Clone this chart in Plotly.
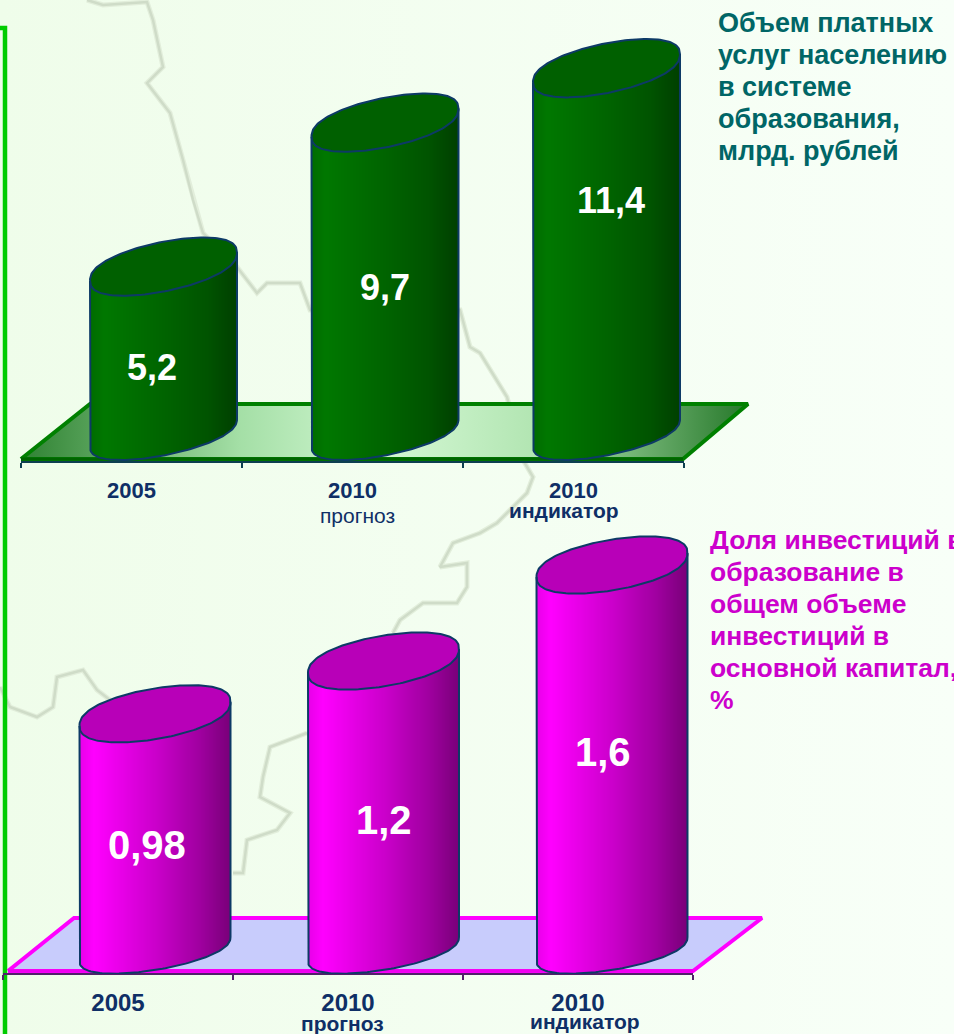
import numpy as np
import plotly.graph_objects as go

# ---------- data ----------
years = ["2005", "2010", "2010"]
services_values = [5.2, 9.7, 11.4]
services_labels = ["5,2", "9,7", "11,4"]
invest_values = [0.98, 1.2, 1.6]
invest_labels = ["0,98", "1,2", "1,6"]
services_title = ["Объем платных", "услуг населению", "в системе", "образования,", "млрд. рублей"]
invest_title = ["Доля инвестиций в", "образование в", "общем объеме", "инвестиций в", "основной капитал,", "%"]

# ---------- decoration of the slide (pixel space) ----------
W, H = 954, 1034
map_x1 = [87,103,147,153,163,147,170,183,193,203,237,257,267,300,310,460,470,480,507,523,533,527,497,480,453,440,467,467,457,423,400,393]
map_y1 = [0,5,2,20,67,83,113,160,200,233,267,293,283,283,310,310,347,353,397,460,477,493,523,533,543,567,563,587,603,603,620,633]
map_x2 = [307,270,263,260,290,277,247,243,233]
map_y2 = [733,747,777,797,813,830,840,873,873]
map_x3 = [0,10,37,53,57,83,97,110]
map_y3 = [687,707,717,707,677,670,690,700]

def hex2rgb(c):
    return np.array([int(c[i:i+2], 16) for i in (1, 3, 5)], float)

def ramp(stops, u):
    xs = [s[0] for s in stops]
    cs = np.array([hex2rgb(s[1]) for s in stops])
    return ["rgb(%d,%d,%d)" % tuple(np.interp(v, xs, cs[:, k]) for k in range(3)) for v in u]

STYLE = [
    dict(ax=("x2", "y2"), x0=21, slot=221, base=433, unit=32, bottom=462, top=0,
         centers=[163.5, 385, 606.5], half_px=73.5, tilt=14, bow=22.5, cap_bow=25,
         body=[(-1, "#006c00"), (-.8, "#007800"), (.1, "#006200"), (.6, "#005400"), (1, "#004000")],
         cap="#006000", edge="#0d3a66", label_px=[(152, 367), (385, 287), (611, 200)], label_size=[36, 36, 36],
         floor=[(21, 459), (683, 459), (748, 404), (90, 404)], floor_line="#008000", front="#006400", axis="#0d3f50",
         floor_scale=[[0, "#2f8232"], [.3, "#a4dfa6"], [.5, "#d4f8d4"], [.72, "#b0e4b0"], [1, "#26782a"]],
         year_y=489, year_size=22),
    dict(ax=("x3", "y3"), x0=3, slot=230, base=949, unit=240, bottom=974, top=530,
         centers=[155, 383.5, 612], half_px=75.5, tilt=12, bow=21, cap_bow=25.5,
         body=[(-1, "#e800e8"), (-.8, "#ff00ff"), (0, "#cc00cc"), (.6, "#a000a0"), (1, "#7a007a")],
         cap="#b800b8", edge="#0d3a66", label_px=[(147, 845), (384, 820), (603, 752)], label_size=[40, 40, 40],
         floor=[(8, 971), (693, 971), (762, 918), (74, 918)], floor_line="#ff00ff", front="#f000f0", axis="#50206a",
         floor_scale=[[0, "#c8ccfc"], [1, "#c8ccfc"]], year_y=1000, year_size=24),
]
CAT_VALUES = [services_values, invest_values]
CAT_LABELS = [services_labels, invest_labels]

fig = go.Figure()
BG = dict(hoverinfo="skip", showlegend=False, xaxis="x", yaxis="y", cliponaxis=False)

# background
fig.add_trace(go.Scatter(x=[0, W, W, 0, 0], y=[0, 0, H, H, 0], mode="lines", line=dict(width=0), fill="toself",
                         fillgradient=dict(type="horizontal", colorscale=[[0, "#effdea"], [1, "#f8fff8"]]), **BG))
for mx, my in [(map_x1, map_y1), (map_x2, map_y2), (map_x3, map_y3)]:
    fig.add_trace(go.Scatter(x=mx, y=my, mode="lines", line=dict(color="#e2eedb", width=5), **BG))
    fig.add_trace(go.Scatter(x=mx, y=my, mode="lines", line=dict(color="#cfdcc8", width=2.5), **BG))
fig.add_trace(go.Scatter(x=[0, 5, 5], y=[28, 28, H], mode="lines", line=dict(color="#00cc00", width=4.5), **BG))

layout_axes = dict(
    xaxis=dict(domain=[0, 1], range=[0, W], visible=False, fixedrange=True),
    yaxis=dict(domain=[0, 1], range=[H, 0], visible=False, fixedrange=True),
)
annotations = []

for k, st in enumerate(STYLE):
    xa, ya = st["ax"]
    slot, x0, unit, base = st["slot"], st["x0"], st["unit"], st["base"]
    px2x = lambda p: -0.5 + (p - x0) / slot
    px2y = lambda p: (base - p) / unit
    values = CAT_VALUES[k]
    tilt_v, bow_v, cap_v = st["tilt"] / unit, st["bow"] / unit, st["cap_bow"] / unit
    half = st["half_px"] / slot

    # floor (slide decoration, lies under the cylinders)
    fx = [p[0] for p in st["floor"]] + [st["floor"][0][0]]
    fy = [p[1] for p in st["floor"]] + [st["floor"][0][1]]
    fig.add_trace(go.Scatter(x=fx, y=fy, mode="lines", line=dict(color=st["floor_line"], width=4), fill="toself",
                             fillgradient=dict(type="horizontal", colorscale=st["floor_scale"]), **BG))
    fig.add_trace(go.Scatter(x=fx[:2], y=fy[:2], mode="lines", line=dict(color=st["front"], width=3), **BG))
    fig.add_trace(go.Scatter(x=[x0, x0 + 3 * slot], y=[st["bottom"]] * 2, mode="lines",
                             line=dict(color=st["axis"], width=2), **BG))

    # cylinders: each one is a run of 1 px wide bars, all exactly as tall as the value
    n = int(round(2 * st["half_px"]))
    u = (np.arange(n) + .5) / n * 2 - 1
    colors = ramp(st["body"], u)
    for i, v in enumerate(values):
        xc = px2x(st["centers"][i])
        sx = xc + u * half
        front = u * tilt_v - bow_v * (1 - u ** 2) ** 0.42
        fig.add_trace(go.Bar(x=sx, y=[v] * n, base=front, width=2 * half / n,
                             marker=dict(color=colors, line=dict(width=0)), hoverinfo="skip",
                             showlegend=False, xaxis=xa, yaxis=ya))
        t = np.linspace(0, np.pi, 80)
        cu = -np.cos(t)
        sn = np.sin(t) ** 0.84
        low = cu * tilt_v - bow_v * sn
        cap_low = cu * tilt_v - cap_v * sn
        cap_high = cu * tilt_v + cap_v * sn
        ox = xc + cu * half
        # top ellipse
        fig.add_trace(go.Scatter(x=np.r_[ox, ox[::-1]], y=np.r_[v + cap_low, (v + cap_high)[::-1]], mode="lines",
                                 line=dict(color=st["edge"], width=2), fill="toself", fillcolor=st["cap"],
                                 hoverinfo="skip", showlegend=False, xaxis=xa, yaxis=ya))
        # side outline
        fig.add_trace(go.Scatter(x=np.r_[ox[0], ox, ox[-1]], y=np.r_[v + low[0], low, v + low[-1]], mode="lines",
                                 line=dict(color=st["edge"], width=2), hoverinfo="skip", showlegend=False,
                                 xaxis=xa, yaxis=ya))
        # value label
        lx, ly = st["label_px"][i]
        annotations.append(dict(x=px2x(lx), y=px2y(ly), xref=xa, yref=ya, xanchor="center", yanchor="middle",
                                text="<b>%s</b>" % CAT_LABELS[k][i], showarrow=False,
                                font=dict(family="Liberation Sans", size=st["label_size"][i], color="white")))

    layout_axes["xaxis" + xa[1:]] = dict(
        domain=[0, 1], range=[px2x(0), px2x(W)], anchor=ya, showgrid=False, zeroline=False, showline=False,
        fixedrange=True, tickmode="array", tickvals=[0, 1, 2],
        ticktext=["<b>%s</b>" % y for y in years], ticks="", ticklabelstandoff=int(st["year_y"] - st["bottom"] - 14),
        tickfont=dict(family="Liberation Sans", size=st["year_size"], color="#0f2f66"),
        minor=dict(tickmode="array", tickvals=[-0.5, 0.5, 1.5, 2.5], ticks="outside", ticklen=5, tickwidth=2,
                   tickcolor=st["axis"], showgrid=False),
    )
    layout_axes["yaxis" + ya[1:]] = dict(
        domain=[1 - st["bottom"] / H, 1 - st["top"] / H], range=[px2y(st["bottom"]), px2y(st["top"])], anchor=xa,
        visible=False, fixedrange=True,
    )

# sub-captions under the years
sub = [("прогноз", 357, 515, 21, False), ("индикатор", 563.5, 510, 21, True),
       ("прогноз", 342.5, 1023, 21, True), ("индикатор", 585, 1021, 21, True)]
for txt, x, y, s, bold in sub:
    annotations.append(dict(x=x / W, y=1 - y / H, xref="paper", yref="paper", xanchor="center", yanchor="middle",
                            text="<b>%s</b>" % txt if bold else txt, showarrow=False,
                            font=dict(family="Liberation Sans", size=s, color="#0f2f66")))

# chart captions, one annotation per line to keep the slide's line pitch
for j, line in enumerate(services_title):
    annotations.append(dict(x=716 / W, y=1 - (23 + 32 * j) / H, xref="paper", yref="paper", xanchor="left", yanchor="middle",
                            text="<b>%s</b>" % line, showarrow=False,
                            font=dict(family="Liberation Sans", size=27, color="#006666")))
for j, line in enumerate(invest_title):
    annotations.append(dict(x=708 / W, y=1 - (540 + 32 * j) / H, xref="paper", yref="paper", xanchor="left", yanchor="middle",
                            text="<b>%s</b>" % line, showarrow=False,
                            font=dict(family="Liberation Sans", size=26.5, color="#cc00cc")))

fig.update_layout(width=W, height=H, margin=dict(l=0, r=0, t=0, b=0), autosize=False, showlegend=False,
                  barmode="overlay", paper_bgcolor="#f3fdee", plot_bgcolor="rgba(0,0,0,0)",
                  annotations=annotations, **layout_axes)

fig.write_html("out.html", config=dict(displayModeBar=False),
               post_script="document.body.style.margin='0';document.body.style.overflow='hidden';")
